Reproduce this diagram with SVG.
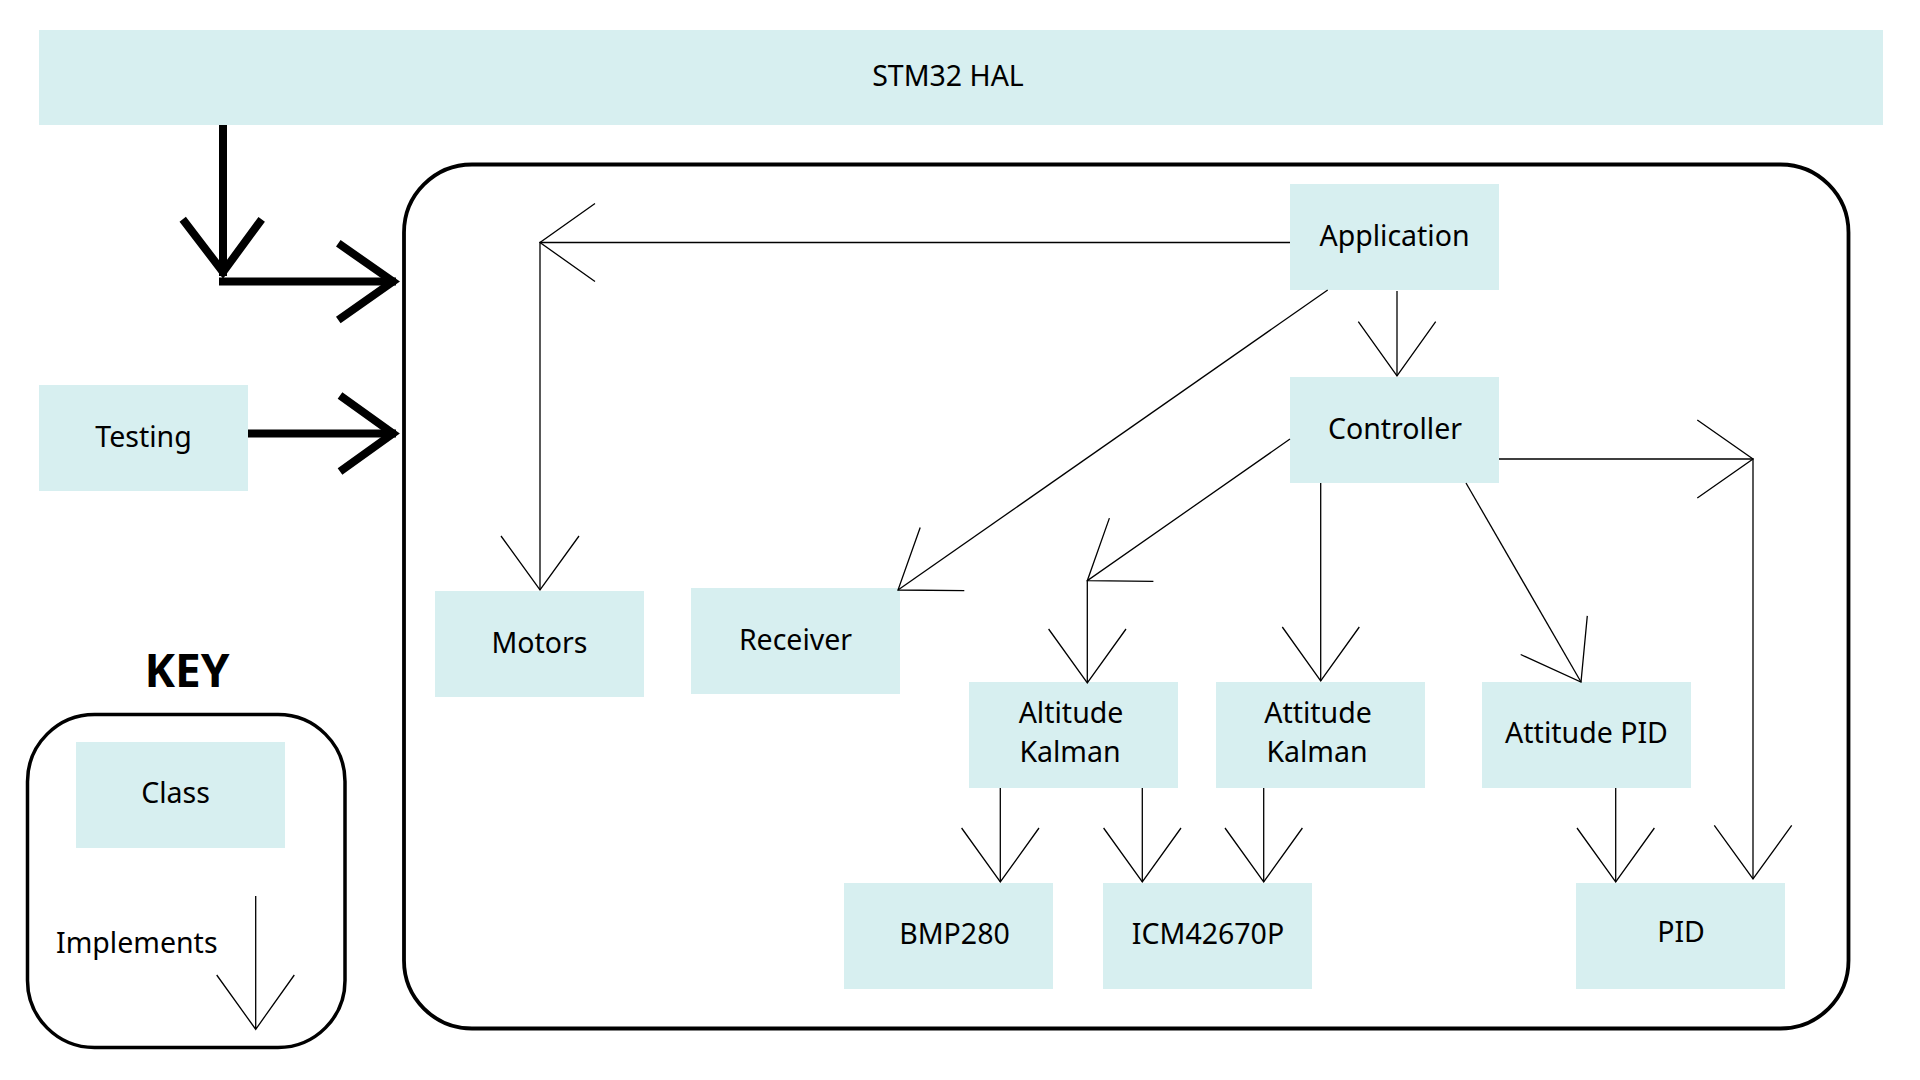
<svg xmlns="http://www.w3.org/2000/svg" width="1920" height="1080" viewBox="0 0 1920 1080">
<style>
.box{fill:#d7eff0;}
.lbl{font-family:"Noto Sans","Open Sans","DejaVu Sans",sans-serif;font-size:28.5px;fill:#000;text-anchor:middle;}
.frame{fill:none;stroke:#000;stroke-width:3.8;}
.thin{fill:none;stroke:#000;stroke-width:1.3;}
.thick{fill:none;stroke:#000;stroke-width:8;stroke-linejoin:miter;}
</style>
<rect width="1920" height="1080" fill="#fff"/>

<g id="hal"><rect class="box" x="39" y="30" width="1844" height="95"/><text class="lbl" x="948" y="86">STM32 HAL</text></g>

<g id="container"><rect class="frame" x="404" y="164.5" width="1444.5" height="864" rx="68"/></g>

<g id="application"><rect class="box" x="1290" y="184" width="209" height="106"/><text class="lbl" x="1394.5" y="246">Application</text></g>
<g id="controller"><rect class="box" x="1290" y="377" width="209" height="106"/><text class="lbl" x="1395" y="439">Controller</text></g>
<g id="testing"><rect class="box" x="39" y="385" width="209" height="106"/><text class="lbl" x="143.5" y="447">Testing</text></g>
<g id="motors"><rect class="box" x="435" y="591" width="209" height="106"/><text class="lbl" x="539.5" y="653">Motors</text></g>
<g id="receiver"><rect class="box" x="691" y="588" width="209" height="106"/><text class="lbl" x="795.5" y="650">Receiver</text></g>
<g id="altitude-kalman"><rect class="box" x="969" y="682" width="209" height="106"/><text class="lbl" x="1071" y="723">Altitude</text><text class="lbl" x="1070" y="762">Kalman</text></g>
<g id="attitude-kalman"><rect class="box" x="1216" y="682" width="209" height="106"/><text class="lbl" x="1318" y="723">Attitude</text><text class="lbl" x="1317" y="762">Kalman</text></g>
<g id="attitude-pid"><rect class="box" x="1482" y="682" width="209" height="106"/><text class="lbl" x="1586.5" y="743">Attitude PID</text></g>
<g id="bmp280"><rect class="box" x="844" y="883" width="209" height="106"/><text class="lbl" x="954.5" y="944">BMP280</text></g>
<g id="icm42670p"><rect class="box" x="1103" y="883" width="209" height="106"/><text class="lbl" x="1208" y="944">ICM42670P</text></g>
<g id="pid"><rect class="box" x="1576" y="883" width="209" height="106"/><text class="lbl" x="1681" y="942">PID</text></g>

<g id="key">
<text x="187" y="687" style="font-family:'Noto Sans','DejaVu Sans',sans-serif;font-size:46px;font-weight:bold;text-anchor:middle;fill:#000;">KEY</text>
<rect class="frame" x="27.5" y="714.5" width="317.5" height="333" rx="67" style="stroke-width:3.5"/>
<g id="key-class"><rect class="box" x="76" y="742" width="209" height="106"/><text class="lbl" x="175.5" y="803">Class</text></g>
<text class="lbl" x="56" y="953" style="text-anchor:start">Implements</text>
<path class="thin" d="M255.7,896 V1029.3 M216.7,975 L255.7,1029.3 L294.3,975"/>
</g>

<g id="connectors">
<path class="thick" d="M223,125 V276"/>
<path class="thick" d="M182.7,219.3 L223,272 L261.7,219.3"/>
<path class="thick" d="M219,281.5 H396"/>
<path class="thick" d="M338.3,243.3 L393,281.5 L338.3,320"/>
<path class="thick" d="M248,433.5 H396"/>
<path class="thick" d="M340,395.5 L393,433.5 L340,471.5"/>

<path class="thin" d="M1290,242.5 H540 V590"/>
<path class="thin" d="M595,203.5 L540,242.5 L595,281.5"/>
<path class="thin" d="M501,536 L540,590 L579,536"/>
<path class="thin" d="M1397,291 V376"/>
<path class="thin" d="M1358.3,321.7 L1397,376 L1435.7,321.7"/>
<path class="thin" d="M1327.7,290 L898,590"/>
<path class="thin" d="M920.2,527.5 L898,590 L964.3,590.6"/>
<path class="thin" d="M1290,439 L1087.3,580.7 V682"/>
<path class="thin" d="M1109.4,518.1 L1087.3,580.7 L1153.4,581.3"/>
<path class="thin" d="M1048.6,629 L1087.3,683 L1126,629"/>
<path class="thin" d="M1320.7,483 V681"/>
<path class="thin" d="M1282.3,627 L1320.7,681 L1359.3,627"/>
<path class="thin" d="M1466,483 L1581,682"/>
<path class="thin" d="M1520.7,654.5 L1581,682 L1587.3,615.9"/>
<path class="thin" d="M1499,459 H1753 V879"/>
<path class="thin" d="M1697.3,420 L1753,459 L1697.3,498"/>
<path class="thin" d="M1714.3,825.3 L1753,879 L1791.7,825.3"/>
<path class="thin" d="M1000.3,788 V882"/>
<path class="thin" d="M961.6,828 L1000.3,882 L1039,828"/>
<path class="thin" d="M1142.3,788 V882"/>
<path class="thin" d="M1103.6,828 L1142.3,882 L1181,828"/>
<path class="thin" d="M1263.7,788 V882"/>
<path class="thin" d="M1225,828 L1263.7,882 L1302.4,828"/>
<path class="thin" d="M1615.7,788 V882"/>
<path class="thin" d="M1577,828 L1615.7,882 L1654.4,828"/>
</g>
</svg>
